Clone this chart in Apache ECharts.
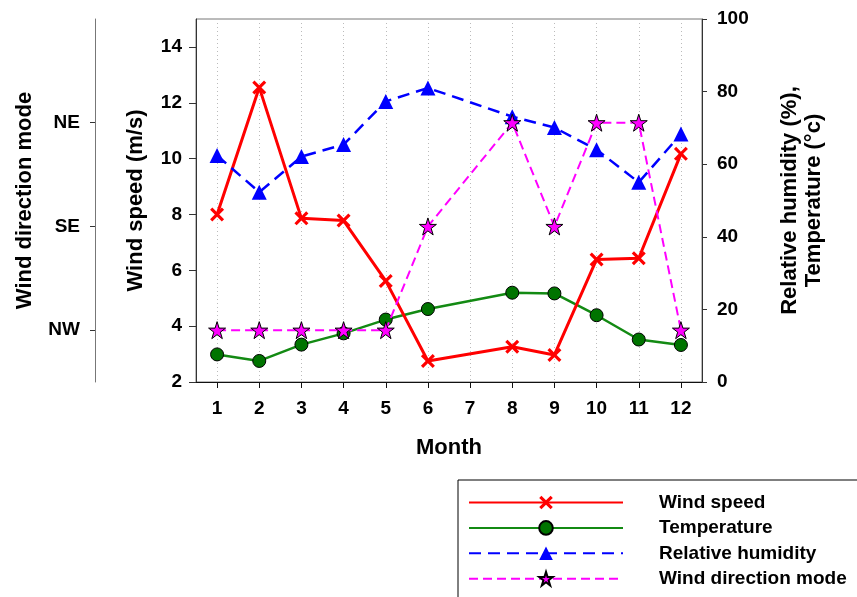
<!DOCTYPE html>
<html>
<head>
<meta charset="utf-8">
<script src="https://cdn.jsdelivr.net/npm/echarts@6/dist/echarts.min.js"></script>
<style>
  html, body { margin: 0; padding: 0; background: #fff; }
  #chart { width: 857px; height: 597px; }
</style>
</head>
<body>
<div id="chart"></div>
<script>
// Monthly climate record (month 7 has no observations)
const months = ['1', '2', '3', '4', '5', '6', '7', '8', '9', '10', '11', '12'];
const windSpeed = [8.0, 12.55, 7.86, 7.78, 5.62, 2.75, null, 3.26, 2.97, 6.39, 6.43, 10.17];
const temperature = [7.6, 5.8, 10.3, 13.4, 17.2, 20.1, null, 24.6, 24.4, 18.4, 11.7, 10.2];
const humidity = [62.4, 52.3, 62.1, 65.4, 77.3, 81.0, null, 73.1, 70.1, 64.0, 55.0, 68.3];
const directionLevels = ['NW', 'SE', 'NE'];
const windDirection = ['NW', 'NW', 'NW', 'NW', 'NW', 'SE', null, 'NE', 'SE', 'NE', 'NE', 'NW'];

const windSpeedTicks = [2, 4, 6, 8, 10, 12, 14];
const directionTicks = [1, 2, 3];

const FONT = '"Liberation Sans", Arial, sans-serif';
const crossPath = 'path://M0,16L16,0L50,34L84,0L100,16L66,50L100,84L84,100L50,66L16,100L0,84L34,50Z';
const starPath = 'path://M50,0L61.2,34.5L97.6,34.5L68.2,55.9L79.4,90.5L50,69.1L20.6,90.5L31.8,55.9L2.4,34.5L38.8,34.5Z';

const dirValues = windDirection.map(d => d == null ? null : directionLevels.indexOf(d) + 1);

const tickLabel = { fontFamily: FONT, fontWeight: 'bold', fontSize: 19, color: '#000' };
const titleStyle = { fontFamily: FONT, fontWeight: 'bold', fontSize: 22, color: '#000' };

const chart = echarts.init(document.getElementById('chart'), null, { renderer: 'canvas' });

chart.setOption({
  animation: false,
  backgroundColor: '#fff',
  grid: {
    left: 196, right: 155, top: 19, bottom: 215,
    show: true, borderColor: '#777', borderWidth: 1, backgroundColor: 'transparent'
  },
  legend: {
    data: ['Wind speed', 'Temperature', 'Relative humidity', 'Wind direction mode'],
    orient: 'vertical',
    left: 458, top: 480,
    height: 160,
    padding: [13, 120, 30, 10],
    itemWidth: 154, itemHeight: 17, itemGap: 6.4,
    borderColor: '#000', borderWidth: 1,
    textStyle: { fontFamily: FONT, fontWeight: 'bold', fontSize: 19, color: '#000', padding: [0, 0, 0, 31] },
    selectedMode: false
  },
  xAxis: {
    type: 'category',
    data: months,
    boundaryGap: true,
    name: 'Month',
    nameLocation: 'middle',
    nameGap: 55,
    nameTextStyle: titleStyle,
    axisLine: { show: true, lineStyle: { color: '#111', width: 1 } },
    axisTick: { show: true, alignWithLabel: true, length: 6, lineStyle: { color: '#111' } },
    axisLabel: Object.assign({ margin: 17 }, tickLabel),
    splitLine: { show: true, alignWithLabel: true, lineStyle: { color: '#bbb', type: [1, 3], width: 1 } }
  },
  yAxis: [
    {
      type: 'value',
      position: 'left',
      min: 2, max: 15, interval: 2,
      name: 'Wind speed (m/s)',
      nameLocation: 'middle',
      nameGap: 49,
      nameTextStyle: titleStyle,
      axisLine: { show: true, lineStyle: { color: '#333' } },
      axisTick: { show: true, length: 7, customValues: windSpeedTicks, lineStyle: { color: '#333' } },
      axisLabel: Object.assign({ margin: 14, customValues: windSpeedTicks }, tickLabel),
      splitLine: { show: false }
    },
    {
      type: 'value',
      position: 'right',
      min: 0, max: 100, interval: 20,
      name: 'Relative humidity (%),\nTemperature (°c)',
      nameLocation: 'middle',
      nameGap: 76,
      nameTextStyle: Object.assign({ lineHeight: 24 }, titleStyle),
      axisLine: { show: true, lineStyle: { color: '#333' } },
      axisTick: { show: true, length: 5, lineStyle: { color: '#333' } },
      axisLabel: Object.assign({ margin: 15 }, tickLabel),
      splitLine: { show: false }
    },
    {
      type: 'value',
      position: 'left',
      offset: 101,
      min: 0.5, max: 4,
      name: 'Wind direction mode',
      nameLocation: 'middle',
      nameGap: 59,
      nameTextStyle: titleStyle,
      axisLine: { show: true, lineStyle: { color: '#777' } },
      axisTick: { show: true, length: 5, customValues: directionTicks, lineStyle: { color: '#333' } },
      axisLabel: Object.assign({
        margin: 15,
        customValues: directionTicks,
        formatter: v => directionLevels[Math.round(v) - 1] || ''
      }, tickLabel),
      splitLine: { show: false }
    }
  ],
  series: [
    {
      name: 'Wind speed',
      type: 'line',
      yAxisIndex: 0,
      data: windSpeed,
      connectNulls: true,
      symbol: crossPath,
      symbolSize: 14,
      lineStyle: { color: '#ff0000', width: 3 },
      itemStyle: { color: '#ff0000' },
      z: 3
    },
    {
      name: 'Temperature',
      type: 'line',
      yAxisIndex: 1,
      data: temperature,
      connectNulls: true,
      symbol: 'circle',
      symbolSize: 13,
      lineStyle: { color: '#138a13', width: 2.5 },
      itemStyle: { color: '#007400', borderColor: '#000', borderWidth: 1 },
      z: 2
    },
    {
      name: 'Relative humidity',
      type: 'line',
      yAxisIndex: 1,
      data: humidity,
      connectNulls: true,
      symbol: 'triangle',
      symbolSize: 15,
      lineStyle: { color: '#0000ff', width: 2.5, type: [12, 7] },
      itemStyle: { color: '#0000ff' },
      z: 4
    },
    {
      name: 'Wind direction mode',
      type: 'line',
      yAxisIndex: 2,
      data: dirValues,
      connectNulls: true,
      symbol: starPath,
      symbolSize: 17,
      lineStyle: { color: '#ff00ff', width: 2, type: [9, 5] },
      itemStyle: { color: '#ff00ff', borderColor: '#000', borderWidth: 1 },
      z: 5
    }
  ]
});
</script>
</body>
</html>
